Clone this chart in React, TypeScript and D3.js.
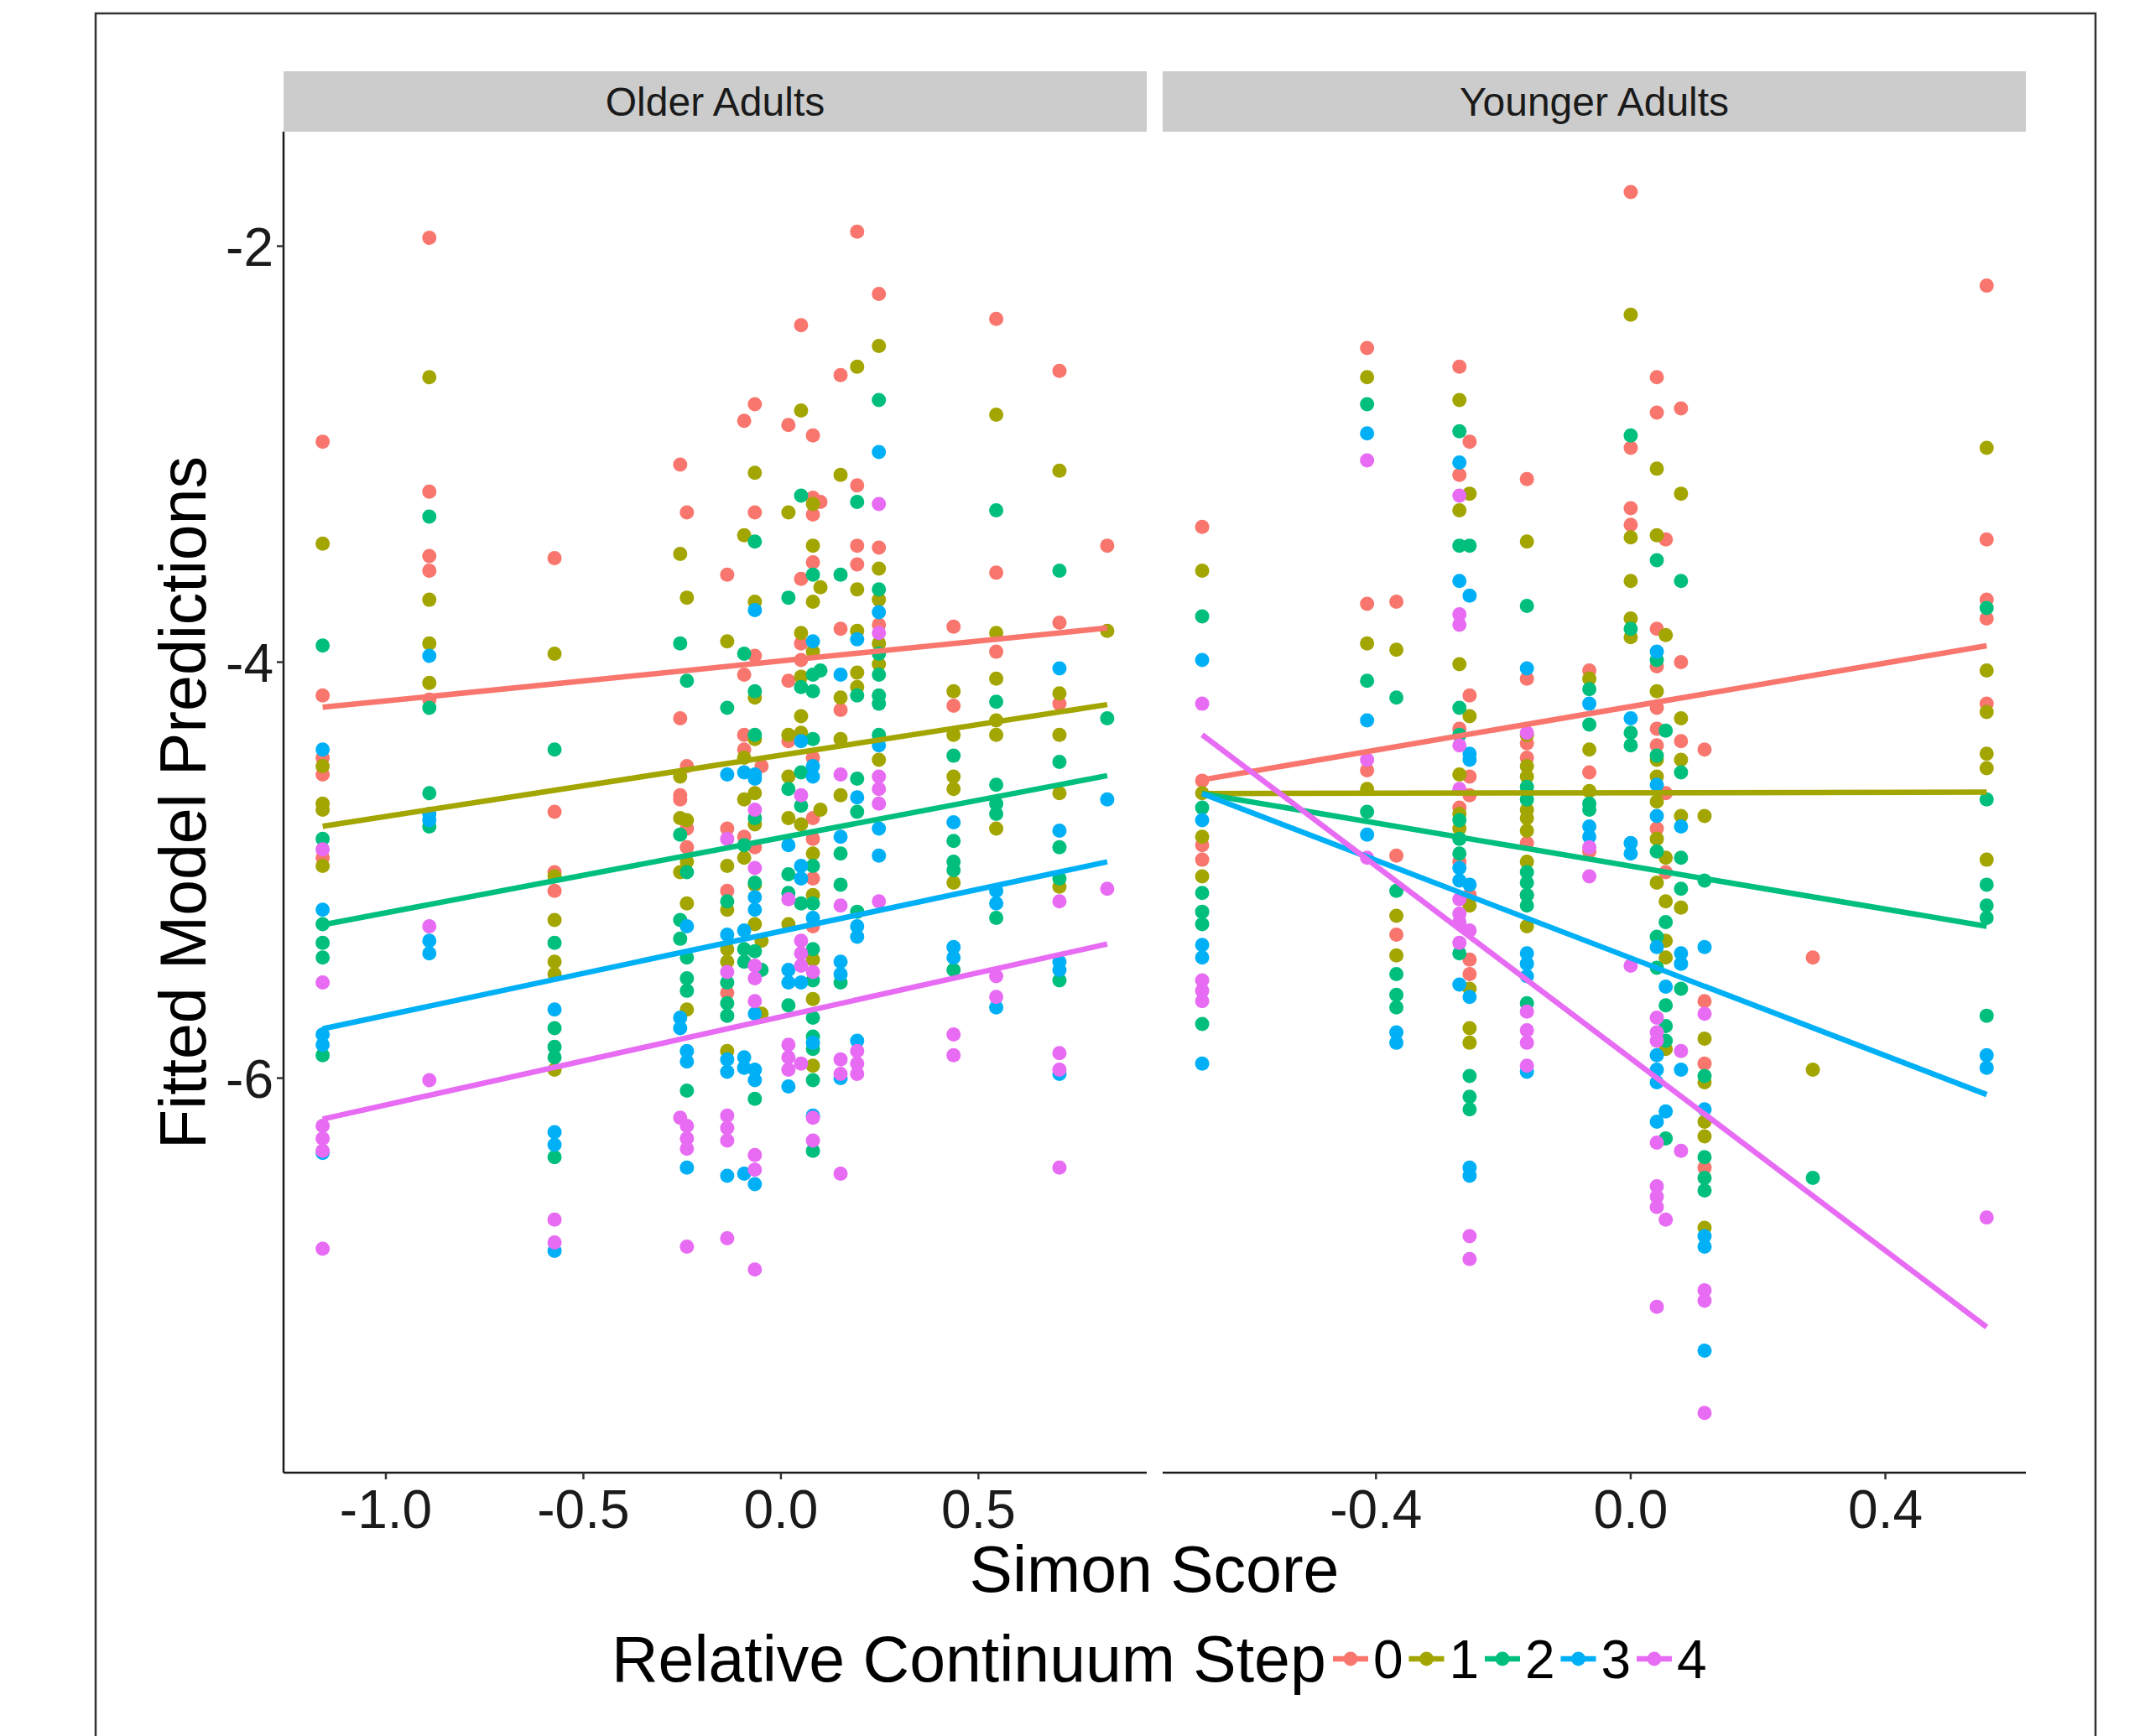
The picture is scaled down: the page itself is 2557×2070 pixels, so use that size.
import React from "react";
import * as d3 from "d3";

// ---------- DATA ----------
const panels = ["Older Adults", "Younger Adults"];
const steps = ["0", "1", "2", "3", "4"];
const stepColors = ["#F8766D", "#A3A500", "#00BF7D", "#00B0F6", "#E76BF3"];

const olderTicksX = [-1.0, -0.5, 0.0, 0.5];
const youngerTicksX = [-0.4, 0.0, 0.4];
const ticksY = [-2, -4, -6];

// Older adults: Simon score of each participant column
const olderX = [-1.16, -0.89, -0.573, -0.255, -0.238, -0.136, -0.093, -0.066, -0.049, 0.019, 0.051, 0.081, 0.1, 0.151, 0.193, 0.248, 0.437, 0.545, 0.705, 0.826];
const olderStep0 = [[-2.94, -4.16, -4.46, -4.54, -4.94], [-1.96, -3.18, -3.49, -3.56, -4.18], [-3.5, -4.72, -5.01, -5.1], [-3.05, -4.27, -4.64, -4.66], [-3.28, -4.5, -4.8, -4.89], [-3.58, -4.8, -5.1, -5.59], [-2.84, -4.06, -4.35, -4.42, -4.84], [-2.76, -3.28, -3.97, -4.89], [-4.5], [-2.86, -4.09, -4.38], [-2.38, -3.6, -3.91, -3.99], [-2.91, -3.21, -3.29, -3.52, -4.46, -4.75, -4.85, -5.04, -5.27], [-3.23], [-2.62, -3.84, -4.23], [-1.93, -3.15, -3.44, -3.53], [-2.23, -3.45, -3.82], [-3.83, -4.21], [-2.35, -3.57, -3.95], [-2.6, -3.81, -4.2], [-3.44]];
const olderStep1 = [[-3.43, -4.5, -4.68, -4.71, -4.98], [-2.63, -3.7, -3.91, -4.1], [-3.96, -5.03, -5.24, -5.44, -5.5, -5.96], [-3.48, -4.55, -4.75, -5.01], [-3.69, -4.76, -4.96, -5.16, -5.67], [-3.9, -4.98, -5.19, -5.38, -5.44, -5.87], [-3.39, -4.46, -4.66, -4.94], [-3.09, -3.71, -4.17, -4.37, -4.63, -4.78, -5.07, -5.26], [-5.34, -5.69], [-3.28, -4.35, -4.55, -4.75, -5.26], [-2.79, -3.86, -4.07, -4.26, -4.34, -4.78], [-3.24, -3.44, -3.71, -3.95, -4.92, -5.12, -5.43, -5.62, -5.94], [-3.64, -4.71], [-3.1, -4.17, -4.37, -4.64], [-2.58, -3.65, -3.85, -4.05, -4.12], [-2.48, -3.55, -3.7, -3.91, -4.01, -4.47], [-4.14, -4.35, -4.55, -4.61, -5.06], [-2.81, -3.86, -4.08, -4.28, -4.35, -4.8], [-3.08, -4.15, -4.35, -4.63, -5.08], [-3.85]];
const olderStep2 = [[-3.92, -4.85, -5.26, -5.35, -5.42, -5.89], [-3.3, -4.22, -4.63, -4.79], [-4.42, -5.35, -5.76, -5.85, -5.9, -6.38], [-3.91, -4.83, -5.24, -5.33], [-4.09, -5.01, -5.42, -5.52, -5.58, -6.06], [-4.22, -5.15, -5.54, -5.64, -5.7], [-3.96, -4.88, -5.38, -5.44], [-3.42, -4.14, -4.35, -4.75, -5.06, -5.39, -6.1], [-5.48], [-3.69, -4.61, -5.02, -5.11, -5.65], [-3.2, -4.12, -4.53, -4.69, -5.16], [-3.58, -4.06, -4.14, -4.37, -4.98, -5.16, -5.38, -5.53, -5.71, -5.8, -5.86, -6.01, -6.35], [-4.04], [-3.58, -4.92, -5.07, -5.54], [-3.23, -4.16, -4.56, -4.72, -5.2], [-2.74, -3.65, -3.96, -4.06, -4.16, -4.2, -4.35], [-4.45, -4.86, -4.96, -5.0, -5.48], [-3.27, -4.19, -4.59, -4.68, -4.73, -5.23], [-3.56, -4.48, -4.89, -5.04, -5.53], [-4.27]];
const olderStep3 = [[-4.42, -5.19, -5.79, -5.84, -6.36], [-3.97, -4.73, -4.76, -5.34, -5.4], [-5.67, -6.26, -6.32, -6.83], [-5.71, -5.76], [-5.27, -5.87, -5.92, -6.43], [-4.54, -5.31, -5.91, -5.97, -6.47], [-4.53, -5.29, -5.9, -5.95, -6.46], [-3.75, -4.54, -4.56, -5.13, -5.19, -5.69, -5.96, -6.01, -6.51], [], [-4.88, -5.48, -5.54, -6.04], [-4.38, -4.98, -5.04, -5.54], [-3.9, -4.5, -4.55, -5.23, -5.83, -6.18], [], [-4.06, -4.84, -5.44, -5.5, -6.0], [-3.89, -4.65, -5.27, -5.32, -5.82], [-2.99, -3.76, -4.4, -4.8, -4.93], [-4.77, -5.37, -5.42], [-5.1, -5.16, -5.66], [-4.03, -4.81, -5.44, -5.48, -5.98], [-4.66]];
const olderStep4 = [[-4.9, -5.54, -6.23, -6.29, -6.35, -6.82], [-5.27, -6.01], [-6.68, -6.79], [-6.19], [-6.23, -6.29, -6.34, -6.81], [-4.85, -5.49, -6.18, -6.24, -6.3, -6.77], [], [-4.71, -4.99, -5.46, -5.52, -5.63, -6.37, -6.44, -6.92], [], [-5.14, -5.84, -5.9, -5.96], [-4.64, -5.34, -5.4, -5.46, -5.93], [-5.49, -6.19, -6.3], [], [-4.54, -5.17, -5.91, -5.98, -6.46], [-5.87, -5.93, -5.98], [-3.24, -3.86, -4.55, -4.61, -4.68, -5.15], [-5.79, -5.89], [-5.51, -5.61], [-5.15, -5.88, -5.96, -6.43], [-5.09]];

// Younger adults
const youngerX = [-0.673, -0.414, -0.368, -0.269, -0.253, -0.163, -0.065, 0.0, 0.041, 0.055, 0.079, 0.116, 0.286, 0.559];
const youngerStep0 = [[-3.35, -4.57, -4.88, -4.95], [-2.49, -3.72, -4.52], [-3.71, -4.93, -5.31], [-2.58, -3.1, -4.32, -4.7, -4.96], [-2.94, -4.16, -4.55, -4.64, -5.12, -5.43, -5.5], [-3.12, -4.08, -4.39, -4.46, -4.87, -5.12], [-4.04, -4.53, -4.91], [-1.74, -2.97, -3.26, -3.34], [-2.63, -2.8, -3.84, -4.02, -4.22, -4.32, -4.4, -4.8], [-3.41, -4.63, -5.01], [-2.78, -4.0, -4.38], [-4.42, -5.63, -5.93, -6.43], [-5.42], [-2.19, -3.41, -3.7, -3.79, -4.2]];
const youngerStep1 = [[-3.56, -4.63, -4.84, -5.03], [-2.63, -3.91, -4.61], [-3.94, -5.22, -5.41], [-2.74, -3.27, -4.01, -4.54, -4.73, -4.8], [-3.19, -4.26, -5.17, -5.57, -5.76, -5.83], [-3.42, -4.35, -4.5, -4.55, -4.71, -4.75, -4.81, -4.96, -5.27], [-4.08, -4.42, -4.62], [-2.33, -3.4, -3.61, -3.79, -3.88], [-3.07, -3.39, -4.14, -4.47, -4.55, -4.67, -4.85, -5.06], [-3.87, -4.94, -5.15, -5.34, -5.42, -5.86], [-3.19, -4.27, -4.47, -4.74, -5.18], [-4.74, -5.81, -6.02, -6.21, -6.28, -6.72], [-5.96], [-2.97, -4.04, -4.24, -4.44, -4.51, -4.95]];
const youngerStep2 = [[-3.78, -4.7, -5.11, -5.2, -5.26, -5.74], [-2.76, -4.09, -4.72], [-4.17, -5.1, -5.5, -5.6, -5.66], [-2.89, -3.44, -4.22, -4.35, -4.76, -4.85, -4.92, -5.4], [-3.44, -5.99, -6.09, -6.15], [-3.73, -4.6, -4.66, -5.01, -5.06, -5.12, -5.17, -5.64], [-4.13, -4.3, -4.68, -4.71], [-2.91, -3.84, -4.34, -4.4], [-3.51, -3.99, -4.45, -4.91, -5.32, -5.47], [-4.33, -5.25, -5.65, -5.75, -5.82, -6.29], [-3.61, -4.53, -4.94, -5.09, -5.57], [-5.05, -5.99, -6.38, -6.48, -6.54], [-6.48], [-3.74, -4.66, -5.07, -5.17, -5.23, -5.7]];
const youngerStep3 = [[-3.99, -4.76, -5.36, -5.42, -5.93], [-2.9, -4.28, -4.83], [-5.78, -5.83], [-3.04, -3.61, -4.99, -5.05, -5.55], [-3.68, -4.44, -4.47, -5.07, -5.61, -6.43, -6.47], [-4.03, -5.4, -5.45, -5.51, -5.97], [-4.2, -4.79, -4.84], [-4.27, -4.87, -4.92], [-3.95, -4.59, -4.74, -5.37, -5.89, -5.96, -6.02, -6.21], [-5.56, -6.16], [-4.79, -5.4, -5.45, -5.96], [-5.37, -6.15, -6.76, -6.81, -7.31], [], [-5.89, -5.95]];
const youngerStep4 = [[-4.2, -5.53, -5.58, -5.63], [-3.03, -4.47, -4.94], [], [-3.2, -3.77, -3.82, -4.4, -4.61, -5.14, -5.21, -5.25, -5.35], [-5.29, -6.76, -6.87], [-4.34, -5.68, -5.77, -5.83, -5.94], [-4.89, -5.03], [-5.46], [-5.71, -5.78, -5.82, -6.31, -6.52, -6.57, -6.62, -7.1], [-6.68], [-5.87, -6.35], [-5.69, -7.02, -7.07, -7.61], [], [-6.67]];

// Fitted lines: value at the lowest and highest Simon score of each panel
const olderFitStart = [-4.217, -4.789, -5.263, -5.763, -6.197];
const olderFitEnd = [-3.836, -4.204, -4.546, -4.96, -5.355];
const youngerFitStart = [-4.566, -4.632, -4.632, -4.632, -4.349];
const youngerFitEnd = [-3.921, -4.625, -5.27, -6.079, -7.197];

// ---------- LAYOUT ----------
const W = 2557;
const H = 2070;
const FONT = "'Liberation Sans', Arial, Helvetica, sans-serif";
const yTop = 157;
const yBot = 1756;
const stripTop = 85;

const yScale = d3.scaleLinear().domain([-7.897, -1.4496]).range([yBot, yTop]);
const xOlder = d3.scaleLinear().domain([-1.259, 0.926]).range([338, 1367]);
const xYounger = d3.scaleLinear().domain([-0.735, 0.6206]).range([1386, 2415]);

const fmtTick = (v: number) => (v < 0 ? "-" : "") + Math.abs(v).toFixed(1);

function Panel({ title, xs, stepsData, fitStart, fitEnd, xScale, ticks, showY }: any) {
  const [r0, r1] = xScale.range();
  const xMin = d3.min(xs) as number;
  const xMax = d3.max(xs) as number;
  const line = d3.line<[number, number]>().x((d) => xScale(d[0])).y((d) => yScale(d[1]));
  return (
    <g>
      <rect x={r0} y={stripTop} width={r1 - r0} height={yTop - stripTop} fill="#cccccc" />
      <text x={(r0 + r1) / 2} y={(stripTop + yTop) / 2 + 17} textAnchor="middle" fontSize={48} fontFamily={FONT} fill="#1a1a1a">
        {title}
      </text>
      {stepsData.map((cols: number[][], si: number) => (
        <g key={si} fill={stepColors[si]}>
          {cols.map((vals, ci) =>
            vals.map((v, k) => <circle key={ci + "-" + k} cx={xScale(xs[ci])} cy={yScale(v)} r={8.5} />)
          )}
        </g>
      ))}
      {steps.map((s, si) => (
        <path
          key={s}
          d={line([[xMin, fitStart[si]], [xMax, fitEnd[si]]]) as string}
          stroke={stepColors[si]}
          strokeWidth={6.5}
          fill="none"
        />
      ))}
      <line x1={r0} x2={r1} y1={yBot} y2={yBot} stroke="#1a1a1a" strokeWidth={2.5} />
      {ticks.map((t: number) => (
        <g key={t}>
          <line x1={xScale(t)} x2={xScale(t)} y1={yBot} y2={yBot + 8} stroke="#333" strokeWidth={2.5} />
          <text x={xScale(t)} y={yBot + 66} textAnchor="middle" fontSize={64} fontFamily={FONT} fill="#1a1a1a">
            {fmtTick(t)}
          </text>
        </g>
      ))}
      {showY && (
        <g>
          <line x1={r0} x2={r0} y1={yTop} y2={yBot} stroke="#1a1a1a" strokeWidth={2.5} />
          {ticksY.map((t) => (
            <g key={t}>
              <line x1={r0 - 8} x2={r0} y1={yScale(t)} y2={yScale(t)} stroke="#333" strokeWidth={2.5} />
              <text x={r0 - 12} y={yScale(t) + 23} textAnchor="end" fontSize={64} fontFamily={FONT} fill="#1a1a1a">
                {t}
              </text>
            </g>
          ))}
        </g>
      )}
    </g>
  );
}

export default function App() {
  const olderSteps = [olderStep0, olderStep1, olderStep2, olderStep3, olderStep4];
  const youngerSteps = [youngerStep0, youngerStep1, youngerStep2, youngerStep3, youngerStep4];
  const legendY = 1978;
  const keyX0 = 1610;
  const keyGap = 90.5;
  return (
    <svg
      width={W}
      height={H}
      style={{ position: "absolute", left: 0, top: 0, background: "#fff" }}
      xmlns="http://www.w3.org/2000/svg"
    >
      <rect x={0} y={0} width={W} height={H} fill="#fff" />
      <path d={`M114,${H + 5} L114,16 L2498,16 L2498,${H + 5}`} fill="none" stroke="#333" strokeWidth={2.5} />
      <Panel title={panels[0]} xs={olderX} stepsData={olderSteps} fitStart={olderFitStart} fitEnd={olderFitEnd} xScale={xOlder} ticks={olderTicksX} showY={true} />
      <Panel title={panels[1]} xs={youngerX} stepsData={youngerSteps} fitStart={youngerFitStart} fitEnd={youngerFitEnd} xScale={xYounger} ticks={youngerTicksX} showY={false} />
      <text x={1376} y={1898} textAnchor="middle" fontSize={77} fontFamily={FONT} fill="#000">
        Simon Score
      </text>
      <text
        transform={`translate(245, 957) rotate(-90)`}
        textAnchor="middle"
        fontSize={77}
        fontFamily={FONT}
        fill="#000"
      >
        Fitted Model Predictions
      </text>
      <text x={729} y={legendY + 27} fontSize={77} fontFamily={FONT} fill="#000">
        Relative Continuum Step
      </text>
      {steps.map((s, i) => {
        const cx = keyX0 + keyGap * i;
        return (
          <g key={s}>
            <line x1={cx - 21} x2={cx + 21} y1={legendY} y2={legendY} stroke={stepColors[i]} strokeWidth={6.5} />
            <circle cx={cx} cy={legendY} r={8.5} fill={stepColors[i]} />
            <text x={cx + 27} y={legendY + 23} fontSize={64} fontFamily={FONT} fill="#000">
              {s}
            </text>
          </g>
        );
      })}
    </svg>
  );
}
